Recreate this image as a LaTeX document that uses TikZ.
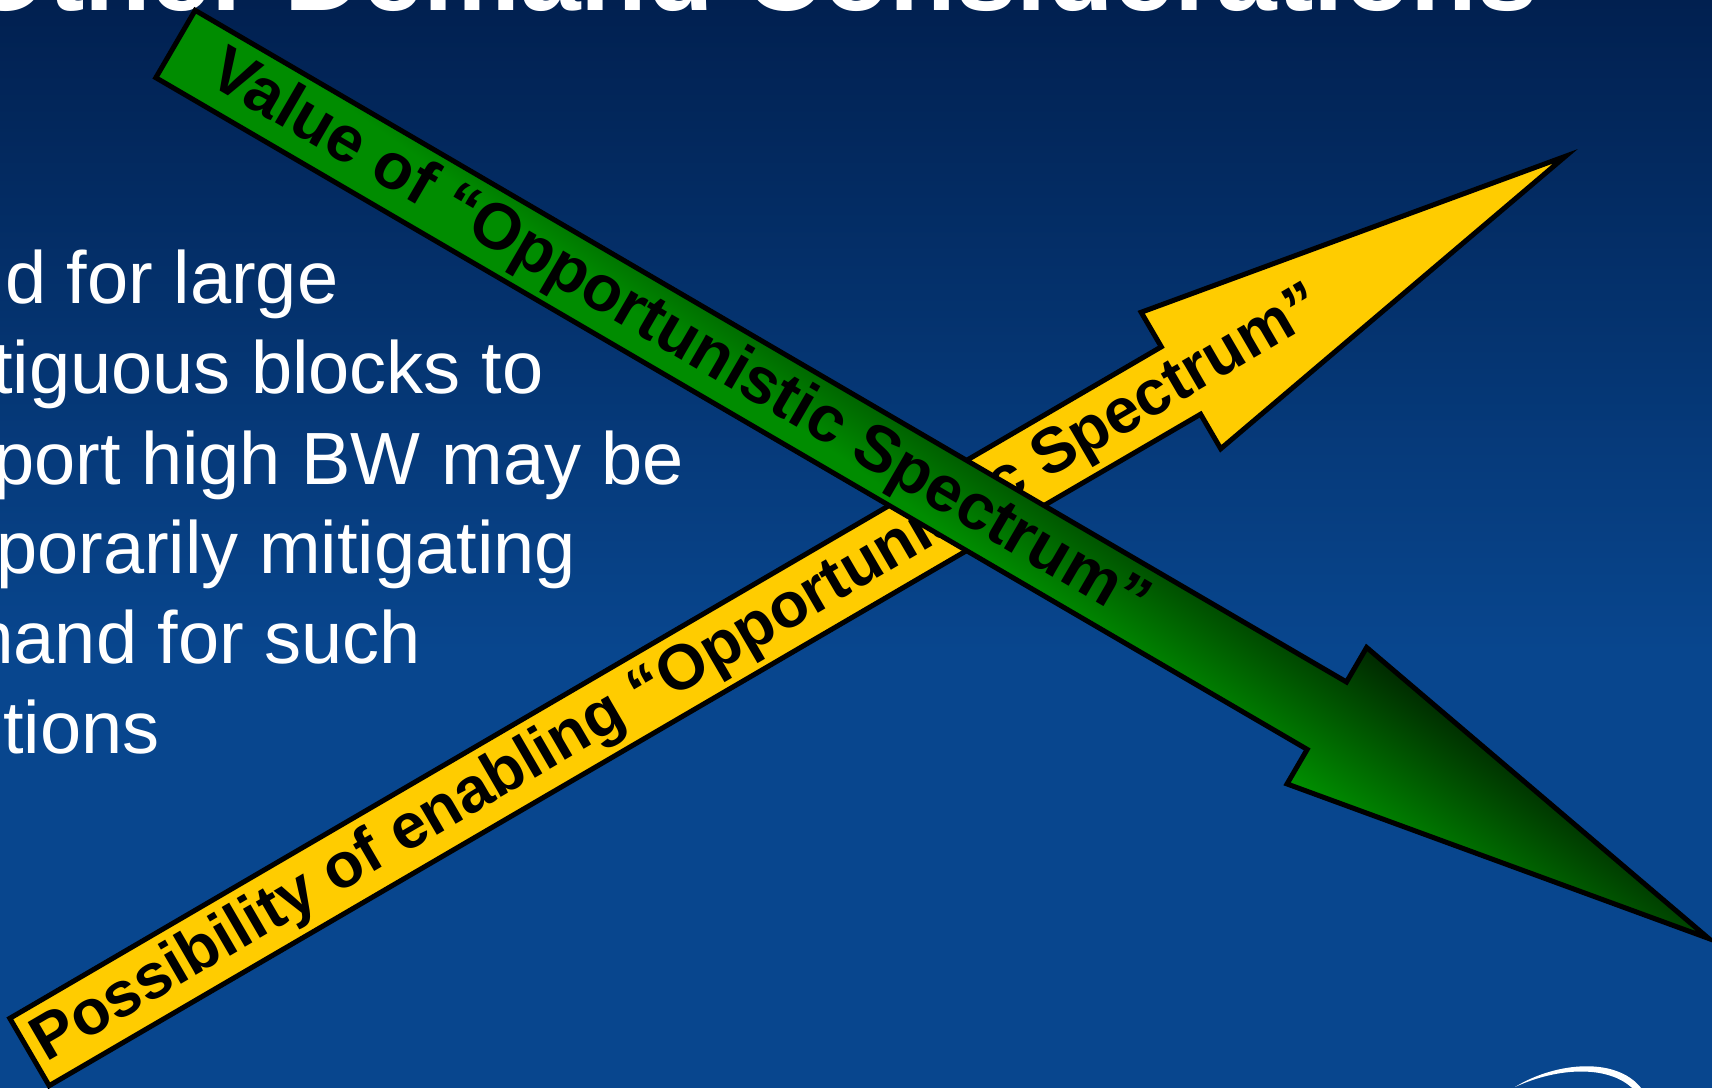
\documentclass[tikz,border=0pt]{standalone}
\usepackage{fontspec}
\setmainfont{Liberation Sans}
\definecolor{bgtop}{RGB}{1,32,80}
\definecolor{bgbot}{RGB}{8,70,142}
\definecolor{arrowyellow}{RGB}{255,204,0}
\definecolor{greenlight}{RGB}{0,140,0}
\definecolor{greendark}{RGB}{0,15,0}
% light green on the lower/tail side, darkening towards the upper side of the head
\pgfdeclarehorizontalshading{greenarrow}{100bp}{color(0bp)=(greenlight); color(49.13bp)=(greenlight); color(54.37bp)=(greendark); color(100bp)=(greendark)}
% block arrow outline in its own frame: tail at x=0, axis along +x
\newcommand{\blockarrowpath}[1]{(0,39) -- (1333,39) -- (1333,79) -- (#1,0) -- (1333,-79) -- (1333,-39) -- (0,-39) -- cycle}
\begin{document}
\begin{tikzpicture}[x=1pt,y=-1pt,
  arrowline/.style={draw=black, line width=5pt, line join=miter},
  labeltext/.style={font=\bfseries\fontsize{65}{65}\selectfont, text=black, inner sep=0pt, anchor=base west},
  bodytext/.style={font=\fontsize{74}{80}\selectfont, text=white, inner sep=0pt, anchor=base west}]
\useasboundingbox (0,0) rectangle (1712,1088);
\clip (0,0) rectangle (1712,1088);

% background
\shade[top color=bgtop, bottom color=bgbot] (0,0) rectangle (1712,652);
\fill[bgbot] (0,650) rectangle (1712,1088);

% title
\node[anchor=base west, inner sep=0pt, text=white, font=\bfseries\fontsize{109}{110}\selectfont] (title) at (-37,10) {Other Demand Considerations};

% body text
\node[bodytext] (l1) at (5,303) {d for large};
\node[bodytext] (l2) at (-8,393) {tiguous blocks to};
\node[bodytext] (l3) at (-7,484) {port high BW may be};
\node[bodytext] (l4) at (-4,573) {porarily mitigating};
\node[bodytext] (l5) at (-48,663) {mand for such};
\node[bodytext] (l6) at (3,753) {tions};

% yellow arrow (pointing up-right)
\begin{scope}[transform canvas={shift={(29.5,1052)}, rotate=30.25}]
 \begin{scope}[x=1pt, y=1pt]
  \filldraw[arrowline, fill=arrowyellow] \blockarrowpath{1778};
  \node[labeltext, font=\bfseries\fontsize{63.5}{64}\selectfont] (ytext) at (9,-18) {Possibility of enabling “Opportunistic Spectrum”};
 \end{scope}
\end{scope}

% green arrow (pointing down-right)
\begin{scope}[transform canvas={shift={(175.5,44)}, rotate=-30.26}]
 \begin{scope}[x=1pt, y=1pt]
  \begin{scope}
    \clip \blockarrowpath{1775};
    \shade[shading=greenarrow, shading angle=84.91] (-12.5,-900) rectangle (1787.5,900);
  \end{scope}
  \draw[arrowline] \blockarrowpath{1775};
  \node[labeltext] (gtext) at (45,-18) {Value of “Opportunistic Spectrum”};
 \end{scope}
\end{scope}

% logo swoosh
\fill[white] (1515,1087) .. controls (1555,1062) and (1620,1055) .. (1644,1092) -- (1636,1092) .. controls (1612,1064) and (1558,1067) .. (1515,1087) -- cycle;
\end{tikzpicture}
\end{document}
